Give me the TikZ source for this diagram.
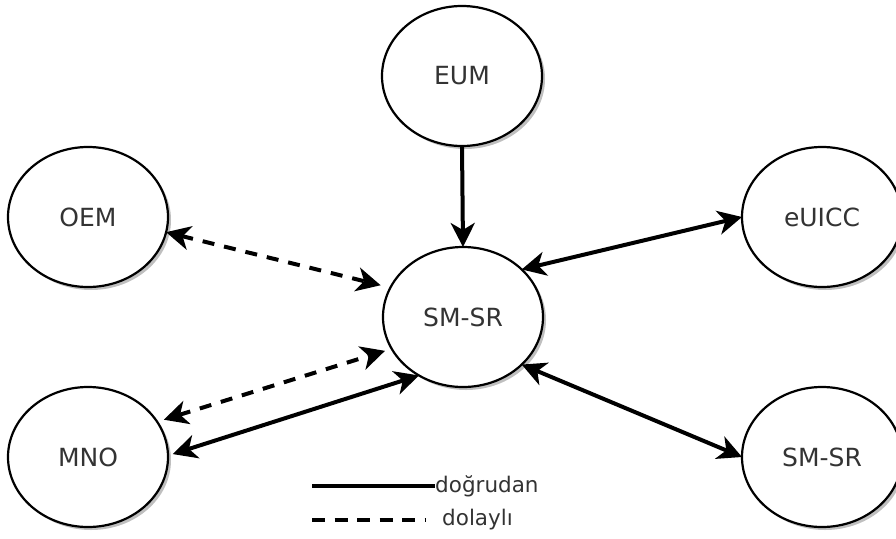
\documentclass[tikz,border=0pt]{standalone}
\usepackage{fontspec}
\setmainfont{DejaVu Sans}
\usetikzlibrary{arrows.meta,shapes.geometric,shadows}
\begin{document}
\begin{tikzpicture}[x=1pt,y=-1pt,
  ent/.style={ellipse,draw=black,line width=2.2pt,fill=white,minimum width=160pt,minimum height=140pt,inner sep=0pt,outer sep=0pt,
    text=black!80,font=\fontsize{25}{29}\selectfont,
    drop shadow={shadow xshift=3pt,shadow yshift=-3pt,fill=black,opacity=0.25}},
  tip/.tip={Stealth[length=24pt,width=24pt,inset=7pt]},
  conn/.style={line width=4pt,tip-tip},
  oneway/.style={line width=4pt,-tip},
  dconn/.style={conn,dash pattern=on 12pt off 10pt},
  legtext/.style={text=black!80,font=\fontsize{21.5}{25}\selectfont,inner sep=0pt,anchor=west}]
\useasboundingbox (0,0) rectangle (896,538);
\node[ent] (eum) at (462,76) {EUM};
\node[ent] (oem) at (88,217) {OEM};
\node[ent] (euicc) at (822,217) {eUICC};
\node[ent] (smsr) at (463,317) {SM-SR};
\node[ent] (mno) at (88,457) {MNO};
\node[ent] (smsr2) at (822,457) {SM-SR};
% connectors
\draw[oneway] (eum.south) -- (smsr.north);
\draw[dconn,shorten >=10pt] (oem.-11) -- (smsr.158);
\draw[dconn,shorten >=7pt,shorten <=7pt] (mno.27.5) -- (smsr.204);
\draw[conn,shorten <=5pt] (mno.1) -- (smsr.233);
\draw[conn] (smsr.39) -- (euicc.west);
\draw[conn] (smsr.-39) -- (smsr2.west);
% legend
\coordinate (la) at (312,486);
\node[legtext] (lt1) at (435,486) {doğrudan};
\draw[line width=4pt] (la) -- (lt1.west);
\coordinate (lb) at (312,520);
\coordinate (lc) at (426,520);
\node[legtext] (lt2) at (442,520) {dolaylı};
\draw[line width=4pt,dash pattern=on 13pt off 9.5pt] (lb) -- (lc);
\end{tikzpicture}
\end{document}
